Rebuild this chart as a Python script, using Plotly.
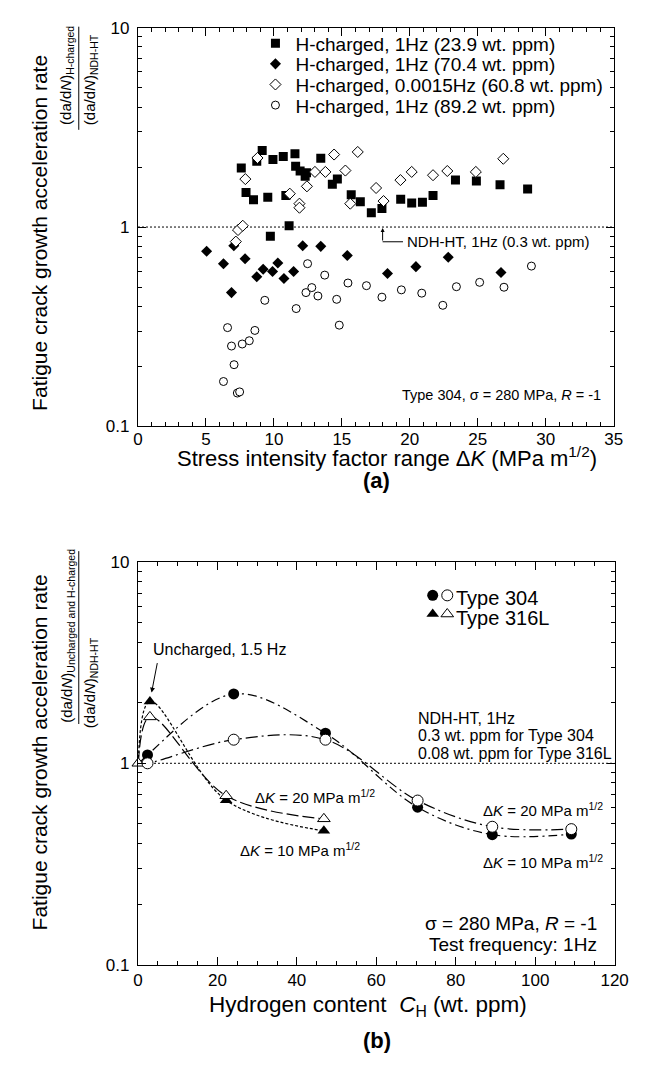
import plotly.graph_objects as go

FONT = "Arial, 'Liberation Sans', sans-serif"
W, H = 649, 1065

# ---------------- Panel (a) data ----------------
sq_x = [7.6, 7.95, 8.5, 8.74, 9.14, 9.55, 9.74, 9.93, 10.69, 10.88, 11.12, 11.55, 11.6, 11.93, 12.3, 12.4,
        13.45, 14.3, 14.67, 15.69, 16.36, 17.17, 17.95, 19.33, 20.14, 20.93, 21.71, 23.36, 24.9, 26.64, 28.67]
sq_y = [1.98, 1.49, 1.37, 2.14, 2.42, 1.41, 0.90, 2.18, 2.26, 1.44, 1.015, 2.33, 2.02, 1.91, 1.80, 1.87,
        2.21, 1.64, 1.74, 1.45, 1.34, 1.18, 1.24, 1.38, 1.32, 1.33, 1.44, 1.72, 1.70, 1.63, 1.55]

fd_x = [5.05, 6.29, 6.88, 7.05, 7.88, 8.74, 9.21, 9.9, 10.29, 10.74, 11.45, 12.12, 13.45, 15.4, 18.36, 20.45, 22.83, 26.71]
fd_y = [0.756, 0.655, 0.469, 0.806, 0.693, 0.563, 0.614, 0.598, 0.66, 0.552, 0.598, 0.806, 0.80, 0.72, 0.585, 0.633, 0.706, 0.591]

od_x = [7.2, 7.36, 7.71, 7.9, 8.79, 11.17, 11.88, 11.88, 12.43, 13.02, 13.79, 14.43, 15.26, 15.62, 16.17,
        17.52, 18.07, 19.31, 20.14, 21.71, 22.76, 24.86, 26.88]
od_y = [0.845, 0.966, 1.015, 1.74, 2.22, 1.47, 1.31, 1.25, 1.60, 1.89, 1.89, 2.31, 1.92, 1.31, 2.38,
        1.57, 1.35, 1.72, 1.89, 1.82, 1.91, 1.89, 2.20]

oc_x = [6.29, 6.59, 6.88, 7.07, 7.31, 7.48, 7.67, 8.19, 8.6, 9.33, 11.64, 12.36, 12.48, 12.79, 13.24, 13.74,
        14.62, 14.81, 15.45, 16.81, 17.95, 19.38, 20.88, 22.43, 23.43, 25.14, 26.93, 28.95]
oc_y = [0.168, 0.313, 0.253, 0.204, 0.147, 0.149, 0.259, 0.269, 0.303, 0.429, 0.39, 0.469, 0.655, 0.497, 0.451, 0.574,
        0.434, 0.322, 0.524, 0.508, 0.445, 0.484, 0.466, 0.405, 0.502, 0.528, 0.499, 0.637]

names_a = ["H-charged, 1Hz (23.9 wt. ppm)", "H-charged, 1Hz (70.4 wt. ppm)",
           "H-charged, 0.0015Hz (60.8 wt. ppm)", "H-charged, 1Hz (89.2 wt. ppm)"]

xrange_a = [0, 35]
ref_ratio = [1, 1]

# ---------------- Panel (b) data ----------------
ndh304_x, ndh304_y = 0.3, 1.0
h304_x = [2.4, 24.1, 47.2, 70.4, 89.2, 109.1]
r304_dk10 = [1.10, 2.21, 1.41, 0.605, 0.442, 0.445]
r304_dk20 = [1.00, 1.31, 1.31, 0.653, 0.484, 0.471]

h316_x = [0.08, 3.0, 22.2, 46.8]
r316_dk10 = [1.0, 2.03, 0.655, 0.462]
r316_dk20 = [1.0, 1.70, 0.69, 0.53]

xrange_b = [0, 120]

minor_log = [m * d for d in (0.1, 1) for m in range(2, 10)]


def px(p):
    return p / W


def py(p):
    return 1 - p / H


fig = go.Figure()

# reference lines (ratio = 1)
fig.add_trace(go.Scatter(x=xrange_a, y=ref_ratio, mode="lines", xaxis="x", yaxis="y",
                         line=dict(color="black", width=1, dash="2px,2px"), showlegend=False, hoverinfo="skip"))
fig.add_trace(go.Scatter(x=xrange_b, y=ref_ratio, mode="lines", xaxis="x2", yaxis="y2",
                         line=dict(color="black", width=1, dash="2px,2px"), showlegend=False, hoverinfo="skip"))

# panel (a) markers
fig.add_trace(go.Scatter(x=sq_x, y=sq_y, mode="markers", name=names_a[0], legend="legend",
                         marker=dict(symbol="square", size=9, color="black"), xaxis="x", yaxis="y"))
fig.add_trace(go.Scatter(x=fd_x, y=fd_y, mode="markers", name=names_a[1], legend="legend2",
                         marker=dict(symbol="diamond", size=8.5, color="black"), xaxis="x", yaxis="y"))
fig.add_trace(go.Scatter(x=od_x, y=od_y, mode="markers", name=names_a[2], legend="legend3",
                         marker=dict(symbol="diamond", size=8.5, color="white", line=dict(color="black", width=1)),
                         xaxis="x", yaxis="y"))
fig.add_trace(go.Scatter(x=oc_x, y=oc_y, mode="markers", name=names_a[3], legend="legend4",
                         marker=dict(symbol="circle", size=8, color="white", line=dict(color="black", width=1)),
                         xaxis="x", yaxis="y"))

# panel (b) curves
fig.add_trace(go.Scatter(x=[ndh304_x] + h304_x, y=[ndh304_y] + r304_dk10, mode="lines", xaxis="x2", yaxis="y2",
                         line=dict(color="black", width=1.2, dash="9px,4px,2px,4px", shape="spline", smoothing=1.0),
                         showlegend=False, hoverinfo="skip"))
fig.add_trace(go.Scatter(x=[ndh304_x] + h304_x, y=[ndh304_y] + r304_dk20, mode="lines", xaxis="x2", yaxis="y2",
                         line=dict(color="black", width=1.2, dash="12px,4px,2px,4px", shape="spline", smoothing=1.0),
                         showlegend=False, hoverinfo="skip"))
fig.add_trace(go.Scatter(x=h316_x, y=r316_dk10, mode="lines", xaxis="x2", yaxis="y2",
                         line=dict(color="black", width=1.2, dash="3px,2px", shape="spline", smoothing=1.0),
                         showlegend=False, hoverinfo="skip"))
fig.add_trace(go.Scatter(x=h316_x, y=r316_dk20, mode="lines", xaxis="x2", yaxis="y2",
                         line=dict(color="black", width=1.2, dash="12px,4px", shape="spline", smoothing=1.0),
                         showlegend=False, hoverinfo="skip"))

# panel (b) markers
fig.add_trace(go.Scatter(x=h316_x, y=r316_dk10, mode="markers", name=" ", legend="legend7", cliponaxis=False,
                         marker=dict(symbol="triangle-up", size=11, color="black"), xaxis="x2", yaxis="y2"))
fig.add_trace(go.Scatter(x=h316_x, y=r316_dk20, mode="markers", name=" ", legend="legend8", cliponaxis=False,
                         marker=dict(symbol="triangle-up", size=11, color="white", line=dict(color="black", width=1)),
                         xaxis="x2", yaxis="y2"))
fig.add_trace(go.Scatter(x=h304_x, y=r304_dk10, mode="markers", name=" ", legend="legend5", cliponaxis=False,
                         marker=dict(symbol="circle", size=11, color="black"), xaxis="x2", yaxis="y2"))
fig.add_trace(go.Scatter(x=h304_x, y=r304_dk20, mode="markers", name=" ", legend="legend6", cliponaxis=False,
                         marker=dict(symbol="circle", size=11, color="white", line=dict(color="black", width=1)),
                         xaxis="x2", yaxis="y2"))

axis_common = dict(showline=True, linecolor="black", linewidth=1.2, mirror="ticks", ticks="inside",
                   tickcolor="black", tickwidth=1, showgrid=False, zeroline=False,
                   tickfont=dict(family=FONT, size=17, color="black"))

xa = dict(domain=[px(137), px(627)], range=xrange_a, tick0=0, dtick=5, ticklen=8, anchor="y",
          ticklabelstandoff=-3,
          minor=dict(dtick=1, ticklen=4, ticks="inside", tickcolor="black", tickwidth=1), **axis_common)
ya = dict(domain=[py(425), py(19)], type="log", range=[-1, 1], tickvals=[0.1, 1, 10], ticktext=["0.1", "1", "10"],
          ticklen=8, anchor="x", ticklabelstandoff=4,
          minor=dict(tickvals=minor_log, ticklen=4, ticks="inside", tickcolor="black", tickwidth=1), **axis_common)
xb = dict(domain=[px(137), px(628)], range=xrange_b, tick0=0, dtick=20, ticklen=8, anchor="y2",
          minor=dict(dtick=5, ticklen=4, ticks="inside", tickcolor="black", tickwidth=1), **axis_common)
yb = dict(domain=[py(973), py(563)], type="log", range=[-1, 1], tickvals=[0.1, 1, 10], ticktext=["0.1", "1", "10"],
          ticklen=8, anchor="x2", ticklabelstandoff=4,
          minor=dict(tickvals=minor_log, ticklen=4, ticks="inside", tickcolor="black", tickwidth=1), **axis_common)


def leg(xp, yp, size):
    return dict(x=px(xp), y=py(yp), xanchor="left", yanchor="middle", bgcolor="rgba(0,0,0,0)",
                borderwidth=0, font=dict(family=FONT, size=size, color="black"))


ann = []


def text(t, x, y, size, xanchor="left", angle=0, bold=False):
    ann.append(dict(text=("<b>%s</b>" % t) if bold else t, x=px(x), y=py(y), xref="paper", yref="paper",
                    xanchor=xanchor, yanchor="middle", showarrow=False, textangle=angle,
                    font=dict(family=FONT, size=size, color="black")))


# panel (a) texts
text("Stress intensity factor range Δ<i>K</i> (MPa m<sup>1/2</sup>)", 394, 456, 22, "center")
text("(a)", 383, 480, 22, "center", bold=True)
text("Fatigue crack growth acceleration rate", 36, 228, 21, "center", -90)
text("(da/d<i>N</i>)<sub>H-charged</sub>", 64, 68, 15, "center", -90)
text("(da/d<i>N</i>)<sub>NDH-HT</sub>", 88, 72, 15, "center", -90)
text("NDH-HT, 1Hz (0.3 wt. ppm)", 412, 237, 15)
text("Type 304, σ = 280 MPa, <i>R</i> = -1", 616, 393, 14.5, "right")

# panel (b) texts
text("Hydrogen content  <i>C</i><sub>H</sub> (wt. ppm)", 374, 1015, 22.5, "center")
text("(b)", 383, 1050, 22, "center", bold=True)
text("Fatigue crack growth acceleration rate", 36, 757, 21, "center", -90)
text("(da/d<i>N</i>)<sub>Uncharged and H-charged</sub>", 64, 638, 15, "center", -90)
text("(da/d<i>N</i>)<sub>NDH-HT</sub>", 88, 686, 15, "center", -90)
text("Uncharged, 1.5 Hz", 150, 652, 16)
text("Δ<i>K</i> = 20 MPa m<sup>1/2</sup>", 255, 802, 15)
text("Δ<i>K</i> = 10 MPa m<sup>1/2</sup>", 240, 856, 15)
text("Δ<i>K</i> = 20 MPa m<sup>1/2</sup>", 490, 815, 15)
text("Δ<i>K</i> = 10 MPa m<sup>1/2</sup>", 490, 868, 15)
text("NDH-HT, 1Hz", 423, 722, 16)
text("0.3 wt. ppm for Type 304", 423, 740, 16)
text("0.08 wt. ppm for Type 316L", 423, 758, 16)
text("Type 304", 463, 600, 20)
text("Type 316L", 463, 620, 20)
text("σ = 280 MPa, <i>R</i> = -1", 612, 931, 19, "right")
text("Test frequency: 1Hz", 612, 952, 19, "right")

# arrows
ann.append(dict(x=px(389), y=py(223), xref="paper", yref="paper", ax=0, ay=14, text="", showarrow=True,
                arrowhead=2, arrowsize=0.8, arrowwidth=1, arrowcolor="black"))
ann.append(dict(x=px(151), y=py(696), xref="paper", yref="paper", ax=6, ay=-31, text="", showarrow=True,
                arrowhead=2, arrowsize=1, arrowwidth=1, arrowcolor="black"))

shapes = [
    dict(type="line", xref="paper", yref="paper", x0=px(76), x1=px(76), y0=py(18), y1=py(123),
         line=dict(color="black", width=1)),
    dict(type="line", xref="paper", yref="paper", x0=px(76), x1=px(76), y0=py(552), y1=py(728),
         line=dict(color="black", width=1)),
    dict(type="line", xref="paper", yref="paper", x0=px(389), x1=px(410), y0=py(237), y1=py(237),
         line=dict(color="black", width=1)),
]

fig.update_layout(
    width=W, height=H, autosize=False, margin=dict(l=0, r=0, t=0, b=0),
    paper_bgcolor="white", plot_bgcolor="white",
    font=dict(family=FONT, color="black"),
    xaxis=xa, yaxis=ya, xaxis2=xb, yaxis2=yb,
    legend=leg(258, 35, 19), legend2=leg(258, 56, 19), legend3=leg(258, 77, 19), legend4=leg(258, 98, 19),
    legend5=leg(420, 597, 20), legend6=leg(435, 597, 20), legend7=leg(420, 616, 20), legend8=leg(435, 616, 20),
    annotations=ann, shapes=shapes,
)

fig.write_html("out.html")
